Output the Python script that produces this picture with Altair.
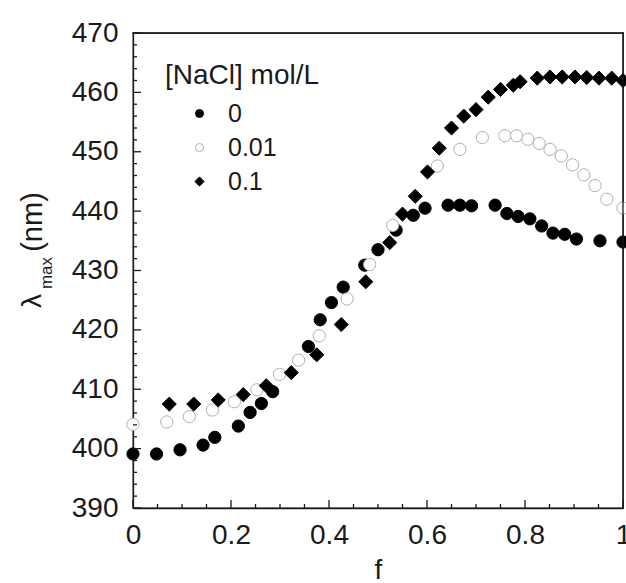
import altair as alt
import pandas as pd

# --- data ---
series = ["0", "0.01", "0.1"]

f_0 = [0.0, 0.048, 0.096, 0.143, 0.167, 0.215, 0.239, 0.262, 0.285, 0.358,
       0.382, 0.405, 0.429, 0.473, 0.50, 0.537, 0.572, 0.596, 0.643, 0.667,
       0.691, 0.739, 0.763, 0.786, 0.81, 0.834, 0.857, 0.881, 0.905, 0.953, 1.0]
lam_0 = [399.1, 399.1, 399.8, 400.6, 401.9, 403.8, 406.1, 407.6, 409.6, 417.2,
         421.7, 424.6, 427.2, 430.9, 433.5, 436.8, 439.3, 440.5, 441.0, 441.0,
         440.9, 441.0, 439.6, 439.1, 438.7, 437.5, 436.3, 436.1, 435.3, 435.0, 434.8]

f_001 = [0.0, 0.069, 0.115, 0.162, 0.207, 0.253, 0.299, 0.338, 0.38, 0.437,
         0.483, 0.53, 0.621, 0.667, 0.713, 0.759, 0.783, 0.806, 0.829, 0.851,
         0.874, 0.897, 0.92, 0.943, 0.967, 1.0]
lam_001 = [404.1, 404.5, 405.4, 406.5, 407.9, 409.9, 412.5, 414.9, 419.0, 425.2,
           431.0, 437.6, 447.6, 450.4, 452.4, 452.7, 452.7, 452.1, 451.4, 450.4,
           449.3, 447.8, 446.1, 444.3, 442.0, 440.5]

f_01 = [0.074, 0.124, 0.174, 0.225, 0.272, 0.323, 0.375, 0.425, 0.475, 0.524,
        0.55, 0.576, 0.601, 0.625, 0.65, 0.675, 0.70, 0.725, 0.75, 0.776,
        0.79, 0.825, 0.851, 0.876, 0.902, 0.926, 0.951, 0.977, 1.0]
lam_01 = [407.5, 407.5, 408.2, 409.1, 410.6, 412.8, 415.8, 420.9, 428.1, 434.7,
          439.5, 442.5, 446.6, 450.6, 454.0, 456.0, 457.1, 459.2, 460.5, 461.2,
          461.8, 462.4, 462.6, 462.6, 462.6, 462.5, 462.4, 462.4, 462.0]

# tick positions
x_major = [0, 0.2, 0.4, 0.6, 0.8, 1.0]
x_minor = [0.05, 0.1, 0.15, 0.25, 0.3, 0.35, 0.45, 0.5, 0.55, 0.65, 0.7, 0.75,
           0.85, 0.9, 0.95]
y_major = [390, 400, 410, 420, 430, 440, 450, 460, 470]
y_minor = [392, 394, 396, 398, 402, 404, 406, 408, 412, 414, 416, 418, 422, 424,
           426, 428, 432, 434, 436, 438, 442, 444, 446, 448, 452, 454, 456, 458,
           462, 464, 466, 468]

rows = []
for s, fs, ls in [("0", f_0, lam_0), ("0.01", f_001, lam_001), ("0.1", f_01, lam_01)]:
    for fv, lv in zip(fs, ls):
        rows.append({"f": fv, "lam": lv, "NaCl": s})
df = pd.DataFrame(rows)

FONT = "Liberation Sans"
TXT = "#1a1a1a"
LINE = "#1a1a1a"
DIAMOND = "M-1.15,0L0,-1.15L1.15,0L0,1.15Z"
LEG_TITLE = "[NaCl] mol/L"
W, H = 490, 475

xs = alt.Scale(domain=[0, 1], nice=False, zero=False)
ys = alt.Scale(domain=[390, 470], nice=False, zero=False)

points = alt.Chart(df).mark_point(filled=True, size=150, opacity=1, strokeWidth=1).encode(
    x=alt.X("f:Q", scale=xs, title="f", axis=alt.Axis(
        values=x_major, format="~g", ticks=False, tickSize=0, grid=False,
        domain=True, domainColor=LINE, domainWidth=1.3, domainOpacity=1,
        labelFont=FONT, labelFontSize=28, labelColor=TXT, labelPadding=13,
        labelFlush=False, labelOverlap=False,
        titleFont=FONT, titleFontSize=28, titleFontWeight="normal",
        titleColor=TXT, titlePadding=7, orient="bottom")),
    y=alt.Y("lam:Q", scale=ys, title="", axis=alt.Axis(
        values=y_major, format="d", ticks=False, tickSize=0, grid=False,
        domain=True, domainColor=LINE, domainWidth=1.3, domainOpacity=1,
        labelFont=FONT, labelFontSize=28, labelColor=TXT, labelPadding=15,
        labelFlush=False, labelOverlap=False, labelBaseline="middle", orient="left")),
    shape=alt.Shape("NaCl:N", title=LEG_TITLE,
                    scale=alt.Scale(domain=series, range=["circle", "circle", DIAMOND])),
    fill=alt.Fill("NaCl:N", title=LEG_TITLE,
                  scale=alt.Scale(domain=series, range=["#000000", "#ffffff", "#000000"])),
    stroke=alt.Stroke("NaCl:N", title=LEG_TITLE,
                      scale=alt.Scale(domain=series, range=["#000000", "#b0b0b0", "#000000"])),
)


def xticks(vals, length):
    return alt.Chart(pd.DataFrame({"f": vals})).mark_tick(
        color=LINE, opacity=1, thickness=1.3, size=length, orient="vertical"
    ).encode(x=alt.X("f:Q", scale=xs, title="f"), y=alt.value(H - length / 2))


def yticks(vals, length):
    return alt.Chart(pd.DataFrame({"lam": vals})).mark_tick(
        color=LINE, opacity=1, thickness=1.3, size=length, orient="horizontal"
    ).encode(y=alt.Y("lam:Q", scale=ys, title=""), x=alt.value(length / 2))


def frame_bar(x, x2, y, y2):
    return alt.Chart(pd.DataFrame({"k": [0]})).mark_rect(color=LINE, opacity=1).encode(
        x=alt.value(x), x2=alt.value(x2), y=alt.value(y), y2=alt.value(y2))


frame = [
    frame_bar(-0.65, W + 0.65, -0.65, 0.65),      # top
    frame_bar(W - 0.65, W + 0.65, -0.65, H + 0.65),  # right
]

ytitle_main = alt.Chart(pd.DataFrame({"t": ["λ"]})).mark_text(
    font=FONT, fontSize=28, angle=270, color=TXT, align="center", baseline="middle"
).encode(text="t:N", x=alt.value(-100), y=alt.value(268))
ytitle_sub = alt.Chart(pd.DataFrame({"t": ["max"]})).mark_text(
    font=FONT, fontSize=17, angle=270, color=TXT, align="center", baseline="middle"
).encode(text="t:N", x=alt.value(-86), y=alt.value(240))
ytitle_unit = alt.Chart(pd.DataFrame({"t": ["(nm)"]})).mark_text(
    font=FONT, fontSize=29, angle=270, color=TXT, align="center", baseline="middle"
).encode(text="t:N", x=alt.value(-100), y=alt.value(189))

layers = [points, xticks(x_major, 8), xticks(x_minor, 4), yticks(y_major, 8),
          yticks(y_minor, 4)] + frame + [ytitle_main, ytitle_sub, ytitle_unit]

chart = alt.layer(*layers).properties(
    width=W, height=H,
    padding={"left": 133, "top": 33, "right": 3, "bottom": 75},
    autosize=alt.AutoSizeParams(type="none"),
).configure_view(
    stroke=LINE, strokeWidth=1.3
).configure_legend(
    orient="none", legendX=32, legendY=29,
    titleFont=FONT, titleFontSize=28, titleFontWeight="normal", titleColor=TXT,
    titlePadding=11, titleLimit=400,
    labelFont=FONT, labelFontSize=25, labelColor=TXT, labelOffset=16,
    symbolSize=64, symbolOffset=22, symbolStrokeWidth=1, rowPadding=8,
)

chart.save("out.html", embed_options={"renderer": "svg", "actions": False})
